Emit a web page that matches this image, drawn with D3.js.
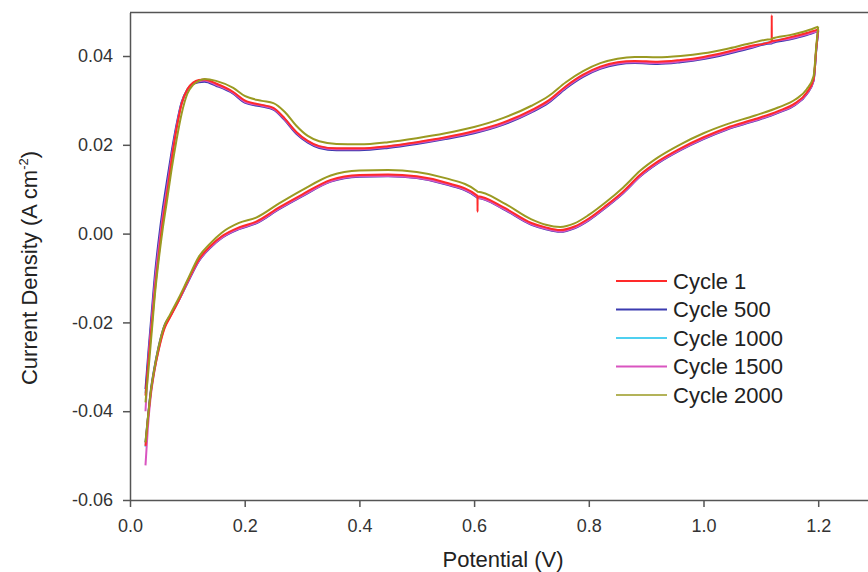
<!DOCTYPE html>
<html>
<head>
<meta charset="utf-8">
<script src="https://cdn.jsdelivr.net/npm/d3@7"></script>
<style>
  html, body { margin: 0; padding: 0; background: #fff; }
  svg { display: block; font-family: "Liberation Sans", Arial, sans-serif; }
  .axis text { fill: #333; font-size: 18px; }
  .axis path, .axis line { stroke: #555; stroke-width: 1.5; }
</style>
</head>
<body>
<svg id="chart" width="868" height="572"></svg>
<script>
// ── CV data: potential grids (forward sweep, return sweep) ──
const POT_FWD = [0.027,0.032,0.038,0.044,0.050,0.057,0.064,0.072,0.081,0.090,0.100,0.110,0.120,0.130,0.150,0.180,0.200,0.230,0.250,0.270,0.290,0.310,0.330,0.360,0.400,0.450,0.500,0.550,0.600,0.650,0.700,0.730,0.760,0.790,0.820,0.850,0.880,0.920,0.960,1.000,1.040,1.080,1.1189,1.1190,1.1191,1.150,1.180,1.200];
const POT_REV = [1.200,1.197,1.192,1.180,1.160,1.130,1.090,1.040,1.000,0.960,0.920,0.890,0.860,0.830,0.800,0.775,0.750,0.725,0.700,0.650,0.6061,0.6060,0.6059,0.550,0.500,0.450,0.400,0.350,0.300,0.260,0.220,0.190,0.160,0.140,0.120,0.100,0.085,0.070,0.060,0.050,0.042,0.036,0.031,0.027];

// current density (A cm-2), one array per sweep per cycle
const cycle1Fwd    = [-0.0365,-0.0290,-0.0205,-0.0120,-0.0050,0.0025,0.0085,0.0160,0.0235,0.0292,0.0325,0.0340,0.0346,0.0347,0.0338,0.0319,0.0300,0.0290,0.0283,0.0259,0.0229,0.0209,0.0197,0.0192,0.0192,0.0197,0.0206,0.0217,0.0231,0.0250,0.0278,0.0300,0.0332,0.0358,0.0376,0.0386,0.0389,0.0387,0.0391,0.0398,0.0409,0.0422,0.0433,0.0492,0.0434,0.0442,0.0452,0.0460];
const cycle1Rev    = [0.0460,0.0423,0.0348,0.0318,0.0294,0.0276,0.0258,0.0238,0.0217,0.0192,0.0162,0.0133,0.0095,0.0063,0.0034,0.0016,0.0008,0.0014,0.0024,0.0060,0.0084,0.0049,0.0085,0.0115,0.0129,0.0133,0.0132,0.0121,0.0088,0.0059,0.0027,0.0014,-0.0006,-0.0028,-0.0058,-0.0108,-0.0150,-0.0188,-0.0214,-0.0262,-0.0312,-0.0362,-0.0420,-0.0478];
const cycle500Fwd  = [-0.0350,-0.0268,-0.0175,-0.0085,-0.0015,0.0055,0.0115,0.0180,0.0245,0.0296,0.0324,0.0337,0.0341,0.0342,0.0333,0.0315,0.0295,0.0286,0.0279,0.0255,0.0225,0.0205,0.0193,0.0188,0.0188,0.0193,0.0202,0.0213,0.0226,0.0245,0.0273,0.0295,0.0327,0.0353,0.0371,0.0381,0.0384,0.0382,0.0386,0.0393,0.0404,0.0417,0.0428,0.0428,0.0429,0.0437,0.0447,0.0456];
const cycle500Rev  = [0.0456,0.0419,0.0344,0.0314,0.0290,0.0272,0.0254,0.0234,0.0213,0.0188,0.0158,0.0129,0.0091,0.0059,0.0030,0.0012,0.0004,0.0010,0.0020,0.0056,0.0080,0.0080,0.0081,0.0111,0.0125,0.0129,0.0128,0.0117,0.0084,0.0055,0.0023,0.0010,-0.0010,-0.0032,-0.0062,-0.0112,-0.0150,-0.0185,-0.0207,-0.0254,-0.0306,-0.0356,-0.0418,-0.0470];
const cycle1000Fwd = [-0.0360,-0.0280,-0.0190,-0.0100,-0.0030,0.0040,0.0100,0.0170,0.0240,0.0295,0.0325,0.0339,0.0344,0.0345,0.0336,0.0318,0.0298,0.0289,0.0282,0.0258,0.0228,0.0208,0.0196,0.0191,0.0191,0.0196,0.0205,0.0216,0.0229,0.0248,0.0276,0.0298,0.0330,0.0356,0.0374,0.0384,0.0387,0.0385,0.0389,0.0396,0.0407,0.0420,0.0431,0.0431,0.0432,0.0440,0.0450,0.0458];
const cycle1000Rev = [0.0458,0.0421,0.0346,0.0316,0.0292,0.0274,0.0256,0.0236,0.0215,0.0190,0.0160,0.0131,0.0093,0.0061,0.0032,0.0014,0.0006,0.0012,0.0022,0.0058,0.0082,0.0082,0.0083,0.0113,0.0127,0.0131,0.0130,0.0119,0.0086,0.0057,0.0025,0.0012,-0.0008,-0.0030,-0.0060,-0.0110,-0.0150,-0.0186,-0.0210,-0.0258,-0.0310,-0.0360,-0.0420,-0.0480];
const cycle1500Fwd = [-0.0400,-0.0285,-0.0192,-0.0102,-0.0032,0.0038,0.0098,0.0168,0.0238,0.0293,0.0323,0.0338,0.0343,0.0345,0.0335,0.0317,0.0297,0.0288,0.0281,0.0257,0.0227,0.0207,0.0195,0.0190,0.0190,0.0195,0.0204,0.0215,0.0228,0.0247,0.0275,0.0297,0.0329,0.0355,0.0373,0.0383,0.0386,0.0384,0.0388,0.0395,0.0406,0.0419,0.0430,0.0430,0.0431,0.0439,0.0449,0.0457];
const cycle1500Rev = [0.0457,0.0420,0.0345,0.0315,0.0291,0.0273,0.0255,0.0235,0.0214,0.0189,0.0159,0.0130,0.0092,0.0060,0.0031,0.0013,0.0005,0.0011,0.0021,0.0057,0.0081,0.0081,0.0082,0.0112,0.0126,0.0130,0.0129,0.0118,0.0085,0.0056,0.0024,0.0011,-0.0009,-0.0031,-0.0061,-0.0111,-0.0151,-0.0187,-0.0212,-0.0260,-0.0314,-0.0368,-0.0440,-0.0522];
const cycle2000Fwd = [-0.0380,-0.0310,-0.0220,-0.0130,-0.0060,0.0010,0.0070,0.0140,0.0210,0.0270,0.0315,0.0335,0.0344,0.0348,0.0344,0.0328,0.0310,0.0299,0.0294,0.0274,0.0243,0.0220,0.0208,0.0202,0.0201,0.0206,0.0215,0.0226,0.0240,0.0260,0.0288,0.0310,0.0341,0.0366,0.0384,0.0394,0.0398,0.0397,0.0400,0.0406,0.0416,0.0428,0.0438,0.0438,0.0439,0.0447,0.0457,0.0466];
const cycle2000Rev = [0.0466,0.0428,0.0355,0.0325,0.0302,0.0284,0.0266,0.0246,0.0226,0.0201,0.0171,0.0142,0.0104,0.0071,0.0042,0.0023,0.0015,0.0020,0.0032,0.0070,0.0094,0.0094,0.0095,0.0125,0.0139,0.0143,0.0142,0.0131,0.0098,0.0068,0.0036,0.0024,0.0002,-0.0022,-0.0052,-0.0105,-0.0145,-0.0182,-0.0207,-0.0255,-0.0308,-0.0358,-0.0418,-0.0470];

const SERIES_NAMES = ['Cycle 1','Cycle 500','Cycle 1000','Cycle 1500','Cycle 2000'];
const SERIES_COLORS = ['#ff2a2a','#3b3bb0','#4fd0f0','#d955c0','#9a9a22'];
const SERIES_FWD = [cycle1Fwd, cycle500Fwd, cycle1000Fwd, cycle1500Fwd, cycle2000Fwd];
const SERIES_REV = [cycle1Rev, cycle500Rev, cycle1000Rev, cycle1500Rev, cycle2000Rev];
const X_TICKS = [0, 0.2, 0.4, 0.6, 0.8, 1.0, 1.2];
const Y_TICKS = [-0.06, -0.04, -0.02, 0, 0.02, 0.04];

const svg = d3.select('#chart');
const L = 130, B = 500, T = 12.5;

const x = d3.scaleLinear().domain([0, 1.3]).range([L, L + 1.3 * 573.5]);
const y = d3.scaleLinear().domain([-0.06, 0.0498]).range([B, T]);

svg.append('clipPath').attr('id', 'clip')
  .append('rect').attr('x', L).attr('y', T).attr('width', 868 - L).attr('height', B - T);

// frame top line
svg.append('line')
  .attr('x1', L).attr('x2', 868).attr('y1', T).attr('y2', T)
  .attr('stroke', '#555').attr('stroke-width', 1.5);

// axes
svg.append('g').attr('class', 'axis')
  .attr('transform', `translate(0,${B})`)
  .call(d3.axisBottom(x).tickValues(X_TICKS).tickFormat(d3.format('.1f'))
    .tickSize(7).tickSizeOuter(0).tickPadding(12));

svg.append('g').attr('class', 'axis')
  .attr('transform', `translate(${L},0)`)
  .call(d3.axisLeft(y).tickValues(Y_TICKS).tickFormat(d => d.toFixed(2))
    .tickSize(7).tickSizeOuter(0).tickPadding(10));

// curves: each sweep is monotone in potential -> draw each as its own path
const line = d3.line().x(d => x(d[0])).y(d => y(d[1])).curve(d3.curveMonotoneX);
const plotG = svg.append('g').attr('clip-path', 'url(#clip)');
const drawOrder = [2, 1, 3, 0, 4];
drawOrder.forEach(i => {
  const fwd = POT_FWD.map((v, k) => [v, SERIES_FWD[i][k]]);
  const rev = POT_REV.map((v, k) => [v, SERIES_REV[i][k]]).reverse();
  [fwd, rev].forEach(pts => {
    plotG.append('path')
      .attr('d', line(pts))
      .attr('fill', 'none')
      .attr('stroke', SERIES_COLORS[i])
      .attr('stroke-width', 2)
      .attr('stroke-linejoin', 'round');
  });
});

// legend
const leg = svg.append('g').attr('transform', 'translate(616,281)');
SERIES_NAMES.forEach((name, i) => {
  const row = leg.append('g').attr('transform', `translate(0,${i * 28.5})`);
  row.append('line').attr('x1', 0).attr('x2', 51).attr('y1', 0).attr('y2', 0)
    .attr('stroke', SERIES_COLORS[i]).attr('stroke-width', i === 4 ? 1.5 : 2);
  row.append('text').attr('x', 57).attr('dy', '0.35em')
    .attr('font-size', 22).attr('fill', '#222').text(name);
});

// axis titles
svg.append('text')
  .attr('x', 503).attr('y', 567)
  .attr('text-anchor', 'middle').attr('font-size', 22).attr('fill', '#222')
  .text('Potential (V)');

const yt = svg.append('text')
  .attr('transform', 'translate(37,268) rotate(-90)')
  .attr('text-anchor', 'middle').attr('font-size', 22).attr('fill', '#222');
yt.append('tspan').text('Current Density (A cm');
yt.append('tspan').attr('font-size', 13).attr('dy', -9).text('-2');
yt.append('tspan').attr('dy', 9).text(')');
</script>
</body>
</html>
